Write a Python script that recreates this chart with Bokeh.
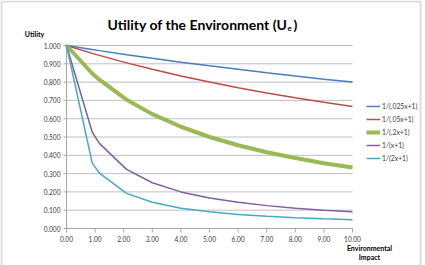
from bokeh.plotting import figure
from bokeh.models import Legend, LegendItem, Label, BoxAnnotation, Range1d
from bokeh.core.properties import value
from bokeh.embed import file_html
from bokeh.resources import INLINE

# Environmental impact sample points
impact = [0, 0.9, 1.15, 2.1, 3, 4, 5, 6, 7, 8, 9, 10]

# Utility for each curve
u_025 = [1.000, 0.978, 0.972, 0.950, 0.930, 0.909, 0.889, 0.870, 0.851, 0.833, 0.816, 0.800]
u_05 = [1.000, 0.957, 0.946, 0.905, 0.870, 0.833, 0.800, 0.769, 0.741, 0.714, 0.690, 0.667]
u_2 = [1.000, 0.847, 0.813, 0.704, 0.625, 0.556, 0.500, 0.455, 0.417, 0.385, 0.357, 0.333]
u_1 = [1.000, 0.526, 0.465, 0.323, 0.250, 0.200, 0.167, 0.143, 0.125, 0.111, 0.100, 0.091]
u_2x = [1.000, 0.357, 0.303, 0.192, 0.143, 0.111, 0.091, 0.077, 0.067, 0.059, 0.053, 0.048]

series_names = ["1/(.025x+1)", "1/(.05x+1)", "1/(.2x+1)", "1/(x+1)", "1/(2x+1)"]
y_ticks = [0.0, 0.1, 0.2, 0.3, 0.4, 0.5, 0.6, 0.7, 0.8, 0.9, 1.0]
x_ticks = [0, 1, 2, 3, 4, 5, 6, 7, 8, 9, 10]

FONT = "Lato"
W, H = 425, 265
# plot area inside the canvas (pixels): left, right, bottom, top measured from bottom-left
AX_L, AX_R, AX_B, AX_T = 66, 352, 37, 220
PX_X = (AX_R - AX_L) / 10.0   # pixels per unit of impact
PX_Y = (AX_T - AX_B) / 1.0    # pixels per unit of utility

p = figure(width=W, height=H, output_backend="svg", toolbar_location=None,
           x_range=Range1d(-AX_L / PX_X, (W - AX_L) / PX_X),
           y_range=Range1d(-AX_B / PX_Y, (H - AX_B) / PX_Y),
           x_axis_type=None, y_axis_type=None,
           min_border=0)
p.outline_line_color = None
p.background_fill_color = "white"
p.border_fill_color = "white"
p.grid.visible = False

GRID = "#BFBFBF"
AXIS = "#A6A6A6"
TICK_TXT = "#404040"

# horizontal gridlines
p.segment(x0=[0] * len(y_ticks), x1=[10] * len(y_ticks), y0=y_ticks, y1=y_ticks,
          line_color=GRID, line_width=1)

# y axis
p.segment(x0=[0], x1=[0], y0=[0], y1=[1], line_color=AXIS, line_width=1)
p.segment(x0=[-3 / PX_X] * len(y_ticks), x1=[0] * len(y_ticks), y0=y_ticks, y1=y_ticks,
          line_color=AXIS, line_width=1)
p.text(x=[0] * len(y_ticks), y=y_ticks, text=["%.3f" % t for t in y_ticks],
       x_offset=-6, text_align="right", text_baseline="middle",
       text_font=value(FONT), text_font_size="6.6px", text_color=TICK_TXT)

# x axis
p.segment(x0=[0], x1=[10], y0=[0], y1=[0], line_color=AXIS, line_width=1)
p.segment(x0=x_ticks, x1=x_ticks, y0=[0] * len(x_ticks), y1=[-4 / PX_Y] * len(x_ticks),
          line_color=AXIS, line_width=1)
p.text(x=x_ticks, y=[0] * len(x_ticks), text=["%.2f" % t for t in x_ticks],
       y_offset=10, text_align="center", text_baseline="middle",
       text_font=value(FONT), text_font_size="6.6px", text_color=TICK_TXT)

colors = ["#4A7EBB", "#BE4B48", "#98B954", "#7D60A0", "#46AAC5"]
widths = [1.5, 1.5, 4, 1.5, 1.5]
series = [u_025, u_05, u_2, u_1, u_2x]

items = []
for name, ys, c, w in zip(series_names, series, colors, widths):
    r = p.line(impact, ys, line_color=c, line_width=w)
    items.append(LegendItem(label=name, renderers=[r]))

legend = Legend(items=items, location=(366, 101), orientation="vertical",
                label_text_font=FONT, label_text_font_size="6.8px",
                label_text_color=TICK_TXT, glyph_width=14, glyph_height=12,
                label_height=12, label_standoff=2, spacing=1, padding=0,
                margin=0, border_line_alpha=0, background_fill_alpha=0)
p.add_layout(legend)


def text(x, y, s, size, align="left", baseline="middle", bold=True):
    # x, y in pixels from the canvas bottom-left corner
    p.add_layout(Label(x=x, y=y, x_units="screen", y_units="screen", text=s,
                       text_font=FONT, text_font_style="bold" if bold else "normal",
                       text_font_size=size, text_color="#000000",
                       text_align=align, text_baseline=baseline))


# title with subscript
text(287, 241, "Utility of the Environment (U", "14px", "right", "alphabetic")
text(287, 238, "e", "8px", "left", "alphabetic")
text(293, 241, ")", "14px", "left", "alphabetic")

# axis titles
text(34, 232, "Utility", "7px", "center")
text(369, 18, "Environmental", "7px", "center")
text(369, 9, "Impact", "7px", "center")

# chart border
p.add_layout(BoxAnnotation(left=1, right=420, bottom=-5, top=264,
                           left_units="screen", right_units="screen",
                           bottom_units="screen", top_units="screen",
                           fill_alpha=0, line_color="#8C8C8C", line_width=2))

open("out.html", "w").write(file_html(p, INLINE))
